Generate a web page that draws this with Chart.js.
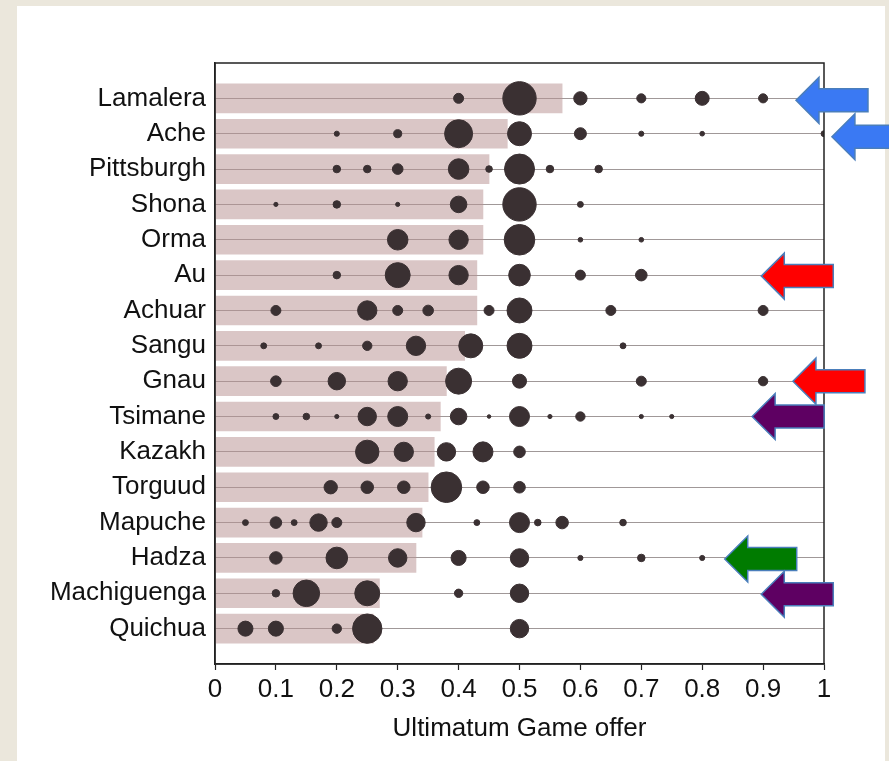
<!DOCTYPE html>
<html>
<head>
<meta charset="utf-8">
<script src="https://cdn.jsdelivr.net/npm/chart.js@4.4.1/dist/chart.umd.min.js"></script>
<style>
  body { margin: 0; background: #ebe7dc; }
  #paper { position: absolute; left: 17px; top: 6px; width: 868px; height: 755px; background: #fff; }
  #chart { position: absolute; left: 0; top: 0; }
</style>
</head>
<body>
<div id="paper"></div>
<canvas id="chart" width="889" height="761"></canvas>
<script>
// societies, top to bottom
const societies = ['Lamalera', 'Ache', 'Pittsburgh', 'Shona', 'Orma', 'Au', 'Achuar', 'Sangu',
    'Gnau', 'Tsimane', 'Kazakh', 'Torguud', 'Mapuche', 'Hadza', 'Machiguenga', 'Quichua'];

// mean offer per society (bar length)
const meanOffers = [0.57, 0.48, 0.45, 0.44, 0.44, 0.43, 0.43, 0.41, 0.38, 0.37, 0.36, 0.35, 0.34, 0.33, 0.27, 0.26];

// offers made in each society (bubble positions)
const offerLevels = [
    [0.4, 0.5, 0.6, 0.7, 0.8, 0.9],
    [0.2, 0.3, 0.4, 0.5, 0.6, 0.7, 0.8, 1.0],
    [0.2, 0.25, 0.3, 0.4, 0.45, 0.5, 0.55, 0.63],
    [0.1, 0.2, 0.3, 0.4, 0.5, 0.6],
    [0.3, 0.4, 0.5, 0.6, 0.7],
    [0.2, 0.3, 0.4, 0.5, 0.6, 0.7],
    [0.1, 0.25, 0.3, 0.35, 0.45, 0.5, 0.65, 0.9],
    [0.08, 0.17, 0.25, 0.33, 0.42, 0.5, 0.67],
    [0.1, 0.2, 0.3, 0.4, 0.5, 0.7, 0.9],
    [0.1, 0.15, 0.2, 0.25, 0.3, 0.35, 0.4, 0.45, 0.5, 0.55, 0.6, 0.7, 0.75],
    [0.25, 0.31, 0.38, 0.44, 0.5],
    [0.19, 0.25, 0.31, 0.38, 0.44, 0.5],
    [0.05, 0.1, 0.13, 0.17, 0.2, 0.33, 0.43, 0.5, 0.53, 0.57, 0.67],
    [0.1, 0.2, 0.3, 0.4, 0.5, 0.6, 0.7, 0.8],
    [0.1, 0.15, 0.25, 0.4, 0.5],
    [0.05, 0.1, 0.2, 0.25, 0.5]
];

// share of players (%) making each offer (bubble area)
const offerShares = [
    [2.3, 25.6, 4.1, 1.9, 4.5, 1.9],
    [0.6, 1.5, 18, 13.2, 3.3, 0.6, 0.5, 0.8],
    [1.3, 1.3, 2.6, 9.7, 1.0, 20.7, 1.3, 1.3],
    [0.4, 1.3, 0.4, 6.3, 25.6, 0.8],
    [9.7, 8.6, 21.5, 0.5, 0.5],
    [1.3, 14.3, 8.6, 10.7, 2.3, 3.1],
    [2.3, 8.6, 2.3, 2.6, 2.3, 14.3, 2.3, 2.3],
    [0.8, 0.8, 2.0, 8.6, 13.2, 14.3, 0.8],
    [2.6, 7.0, 8.6, 15.5, 4.5, 2.3, 2.0],
    [0.8, 1.0, 0.4, 7.8, 9.2, 0.6, 6.3, 0.3, 9.2, 0.4, 2.0, 0.4, 0.4],
    [12.6, 8.6, 7.8, 9.2, 3.1],
    [4.1, 3.6, 3.6, 21.5, 3.6, 3.1],
    [0.8, 3.1, 0.8, 7.0, 2.3, 7.8, 0.8, 9.2, 1.0, 3.6, 1.0],
    [3.6, 10.7, 7.8, 5.2, 7.8, 0.6, 1.3, 0.6],
    [1.3, 16.2, 14.3, 1.6, 7.8],
    [5.2, 5.2, 2.0, 19.8, 7.8]
];

const barData = meanOffers.map((m, i) => ({ x: m, y: i }));
const bubbleData = [];
offerLevels.forEach((levels, i) => {
    levels.forEach((v, j) => {
        bubbleData.push({ x: v, y: i, r: 3.3 * Math.sqrt(offerShares[i][j]) });
    });
});

// arrows added on top of the figure
const arrows = [
    { row: 0, tip: 0.954, dy: 2, color: '#3a79f3' },
    { row: 1, tip: 1.013, dy: 3, color: '#3a79f3' },
    { row: 5, tip: 0.897, dy: 1, color: '#ff0000' },
    { row: 8, tip: 0.949, dy: 0, color: '#ff0000' },
    { row: 9, tip: 0.882, dy: 0, color: '#5e0062' },
    { row: 13, tip: 0.837, dy: 1, color: '#007b00' },
    { row: 14, tip: 0.897, dy: 1, color: '#5e0062' }
];

const framePlugin = {
    id: 'frame',
    afterDatasetsDraw(chart) {
        const { ctx, chartArea: a } = chart;
        ctx.save();
        ctx.strokeStyle = '#222';
        ctx.lineWidth = 1.5;
        ctx.strokeRect(a.left, a.top, a.right - a.left, a.bottom - a.top);
        ctx.restore();
    }
};

const arrowPlugin = {
    id: 'arrows',
    afterDraw(chart) {
        const { ctx } = chart;
        const xs = chart.scales.x, ys = chart.scales.y;
        ctx.save();
        arrows.forEach(a => {
            const tx = xs.getPixelForValue(a.tip);
            const ty = ys.getPixelForValue(a.row) + a.dy;
            const head = 23, len = 72, hh = 23, sh = 11.5;
            ctx.beginPath();
            ctx.moveTo(tx, ty);
            ctx.lineTo(tx + head, ty - hh);
            ctx.lineTo(tx + head, ty - sh);
            ctx.lineTo(tx + len, ty - sh);
            ctx.lineTo(tx + len, ty + sh);
            ctx.lineTo(tx + head, ty + sh);
            ctx.lineTo(tx + head, ty + hh);
            ctx.closePath();
            ctx.fillStyle = a.color;
            ctx.fill();
            ctx.strokeStyle = '#4a7ebb';
            ctx.lineWidth = 1.5;
            ctx.stroke();
        });
        ctx.restore();
    }
};

new Chart(document.getElementById('chart'), {
    type: 'bar',
    data: {
        datasets: [
            {
                type: 'bubble',
                data: bubbleData,
                backgroundColor: '#3a3032',
                borderColor: '#3a3032',
                borderWidth: 1,
                order: 1
            },
            {
                type: 'bar',
                data: barData,
                backgroundColor: 'rgba(185,145,145,0.52)',
                borderWidth: 0,
                barThickness: 29,
                order: 2
            }
        ]
    },
    options: {
        responsive: false,
        animation: false,
        indexAxis: 'y',
        layout: { padding: { top: 63, right: 65, left: 0, bottom: 0 } },
        plugins: {
            legend: { display: false },
            tooltip: { enabled: false }
        },
        scales: {
            x: {
                type: 'linear',
                min: 0,
                max: 1,
                afterFit(s) { s.height = 97; },
                border: { display: true, color: '#222', width: 1.5 },
                grid: { drawOnChartArea: false, tickLength: 6, tickColor: '#222', tickWidth: 1.2 },
                ticks: {
                    stepSize: 0.1,
                    padding: 4,
                    color: '#111',
                    maxRotation: 0,
                    autoSkip: false,
                    font: { family: 'Liberation Sans, Arial, sans-serif', size: 26 },
                    callback: v => (Math.abs(v) < 1e-9 || Math.abs(v - 1) < 1e-9) ? String(Math.round(v)) : v.toFixed(1)
                },
                title: {
                    display: true,
                    text: 'Ultimatum Game offer',
                    color: '#111',
                    font: { family: 'Liberation Sans, Arial, sans-serif', size: 26 },
                    padding: { top: 0, bottom: 17 }
                }
            },
            y: {
                type: 'linear',
                min: -1,
                max: 16,
                reverse: true,
                offset: false,
                afterFit(s) { s.width = 215; },
                border: { display: true, color: '#222', width: 1.5 },
                grid: {
                    offset: false,
                    drawTicks: false,
                    lineWidth: 1,
                    color: c => (c.tick && c.tick.value >= 0 && c.tick.value < societies.length) ? '#a09898' : 'rgba(0,0,0,0)'
                },
                ticks: {
                    stepSize: 1,
                    autoSkip: false,
                    padding: 9,
                    color: '#111',
                    font: { family: 'Liberation Sans, Arial, sans-serif', size: 26 },
                    callback: v => societies[v] || ''
                }
            }
        }
    },
    plugins: [framePlugin, arrowPlugin]
});
</script>
</body>
</html>
